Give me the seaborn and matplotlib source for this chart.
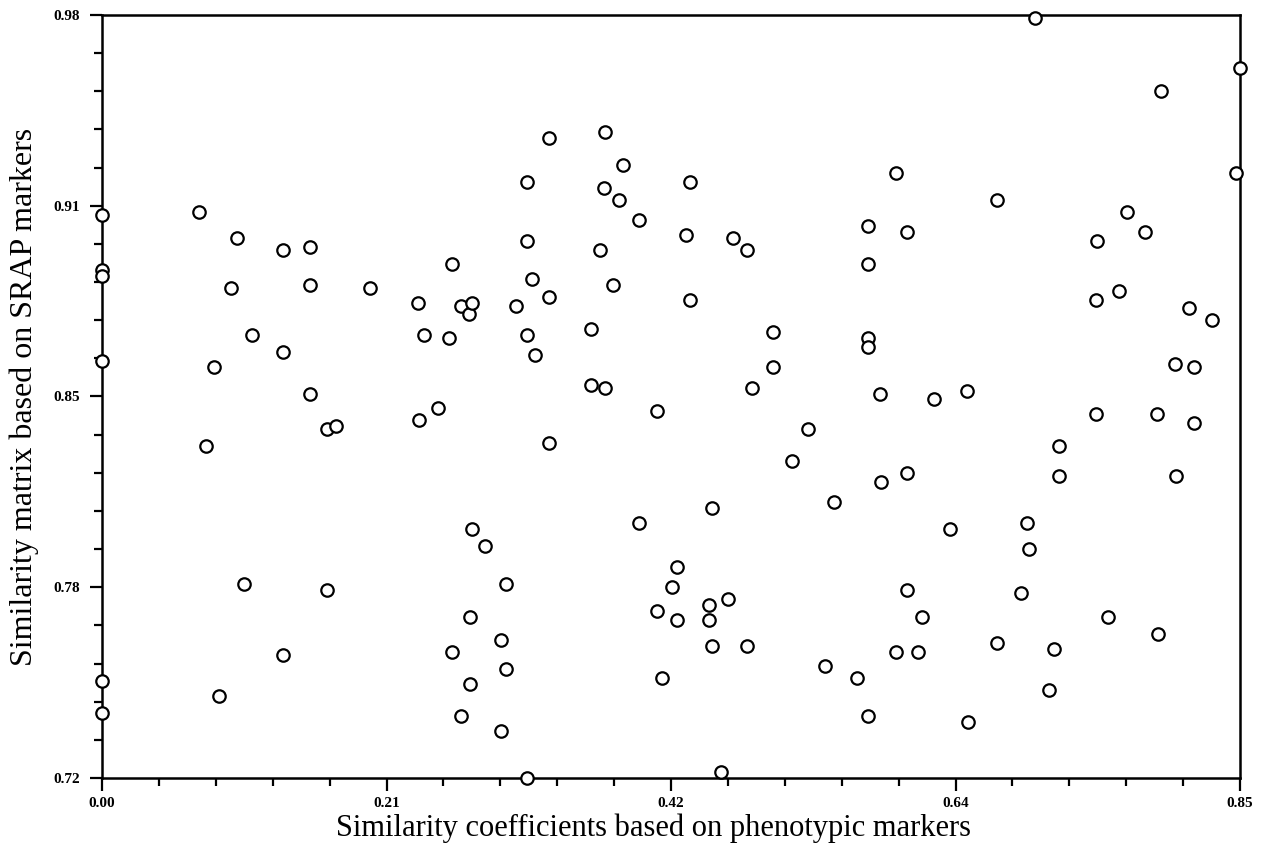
import numpy as np
import pandas as pd
import seaborn as sns
import matplotlib.pyplot as plt
from matplotlib.ticker import AutoMinorLocator

# Valores (coeficientes de similitud)
phenotypic = [
    0.000, 0.000, 0.000, 0.000, 0.000, 0.000,
    0.0725, 0.1008, 0.0964, 0.0837, 0.0777, 0.1120, 0.1352, 0.1352, 0.1061, 0.0874,
    0.1352, 0.1554, 0.1554, 0.1554, 0.1681, 0.1748, 0.1681, 0.2002, 0.2360, 0.2405,
    0.2368, 0.2510, 0.2592, 0.2614, 0.2681, 0.2741, 0.2764, 0.2764, 0.2861, 0.3018,
    0.2614, 0.2681, 0.2749, 0.2749, 0.2980, 0.3018, 0.2980, 0.3092, 0.3174, 0.3174,
    0.3174, 0.3212, 0.3234, 0.3339, 0.3339, 0.3339, 0.3174, 0.3652, 0.3652, 0.3720,
    0.3757, 0.3750, 0.3757, 0.3817, 0.3862, 0.3891, 0.4011, 0.4011, 0.4145, 0.4145,
    0.4183, 0.4257, 0.4295, 0.4295, 0.4362, 0.4392, 0.4392, 0.4534, 0.4534, 0.4556,
    0.4556, 0.4623, 0.4676, 0.4713, 0.4818, 0.4818, 0.4855, 0.5012, 0.5012, 0.5154,
    0.5273, 0.5400, 0.5467, 0.5639, 0.5721, 0.5721, 0.5721, 0.5721, 0.5721, 0.5931,
    0.5931, 0.5811, 0.5819, 0.6013, 0.6013, 0.6013, 0.6125, 0.6095, 0.6214, 0.6334,
    0.6461, 0.6468, 0.6685, 0.6685, 0.6864, 0.6909, 0.6924, 0.6969, 0.7073, 0.7111,
    0.7148, 0.7148, 0.7432, 0.7424, 0.7424, 0.7514, 0.7596, 0.7656, 0.7790, 0.7880,
    0.7887, 0.7910, 0.8119, 0.8014, 0.8022, 0.8156, 0.8156, 0.8291, 0.8470, 0.8500,
]
srap = [
    0.912, 0.893, 0.891, 0.862, 0.753, 0.742,
    0.913, 0.904, 0.887, 0.860, 0.833, 0.871, 0.900, 0.865, 0.786, 0.748,
    0.762, 0.901, 0.888, 0.851, 0.839, 0.840, 0.784, 0.887, 0.882, 0.871,
    0.842, 0.846, 0.870, 0.895, 0.881, 0.878, 0.882, 0.805, 0.799, 0.786,
    0.763, 0.741, 0.752, 0.775, 0.767, 0.757, 0.736, 0.881, 0.871, 0.903,
    0.923, 0.890, 0.864, 0.938, 0.884, 0.834, 0.720, 0.873, 0.854, 0.900,
    0.940, 0.921, 0.853, 0.888, 0.917, 0.929, 0.910, 0.807, 0.845, 0.777,
    0.754, 0.785, 0.792, 0.774, 0.905, 0.923, 0.883, 0.779, 0.774, 0.765,
    0.812, 0.722, 0.781, 0.904, 0.900, 0.765, 0.853, 0.872, 0.860, 0.828,
    0.839, 0.758, 0.814, 0.754, 0.908, 0.895, 0.870, 0.867, 0.741, 0.926,
    0.763, 0.851, 0.821, 0.906, 0.824, 0.784, 0.775, 0.763, 0.849, 0.805,
    0.852, 0.739, 0.917, 0.766, 0.783, 0.807, 0.798, 0.979, 0.750, 0.764,
    0.833, 0.823, 0.903, 0.883, 0.844, 0.775, 0.886, 0.913, 0.906, 0.844,
    0.769, 0.954, 0.880, 0.861, 0.823, 0.860, 0.841, 0.876, 0.926, 0.962,
]

x_tick_labels = ["0.00", "0.21", "0.42", "0.64", "0.85"]
y_tick_labels = ["0.72", "0.78", "0.85", "0.91", "0.98"]

df = pd.DataFrame({"phen": phenotypic, "srap": srap})

sns.set_theme(style="ticks")
plt.rcParams["font.family"] = ["Liberation Serif", "DejaVu Serif"]

fig = plt.figure(figsize=(12.63, 8.57), dpi=100)
ax = fig.add_axes([0.0808, 0.0922, 0.901, 0.8903])

sns.scatterplot(
    data=df, x="phen", y="srap", ax=ax,
    s=80, marker="o", facecolor="white", edgecolor="black",
    linewidth=1.6, clip_on=False, zorder=3
)

ax.set_xlim(0, 0.85)
ax.set_ylim(0.72, 0.98)
ax.set_xticks(np.linspace(0, 0.85, 5))
ax.set_xticklabels(x_tick_labels, fontsize=11, fontweight="bold")
ax.set_yticks(np.linspace(0.72, 0.98, 5))
ax.set_yticklabels(y_tick_labels, fontsize=11, fontweight="bold")
ax.xaxis.set_minor_locator(AutoMinorLocator(5))
ax.yaxis.set_minor_locator(AutoMinorLocator(5))

ax.tick_params(which="major", direction="out", length=9, width=1.6,
               color="black", labelcolor="black")
ax.tick_params(which="minor", direction="out", length=6, width=1.6, color="black")
ax.tick_params(axis="x", which="major", pad=5)
ax.tick_params(axis="y", which="major", pad=7)

for sp in ax.spines.values():
    sp.set_visible(True)
    sp.set_linewidth(1.8)
    sp.set_color("black")

ax.set_xlabel("Similarity coefficients based on phenotypic markers",
              fontsize=22, color="black")
ax.xaxis.set_label_coords(0.485, -0.047)
ax.set_ylabel("Similarity matrix based on SRAP markers",
              fontsize=23, color="black", labelpad=10)

fig.savefig("out.png", dpi=100, facecolor="white")
